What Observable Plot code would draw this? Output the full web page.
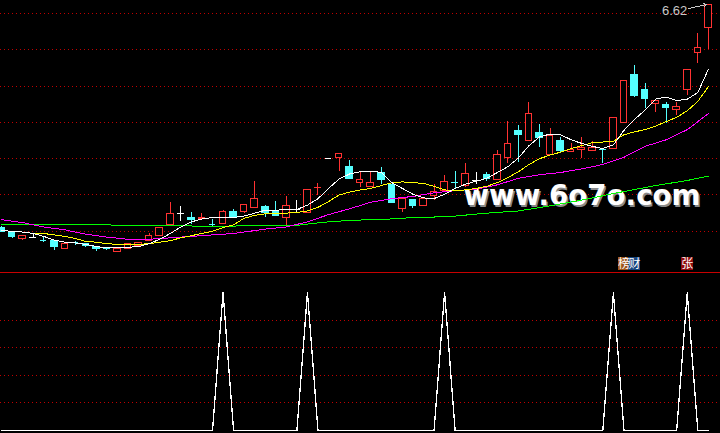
<!DOCTYPE html>
<html><head><meta charset="utf-8">
<script src="https://cdn.jsdelivr.net/npm/d3@7"></script>
<script src="https://cdn.jsdelivr.net/npm/@observablehq/plot@0.6"></script>
<style>
html,body{margin:0;padding:0;background:#000;overflow:hidden}
#chart svg{display:block}
#chart svg line, #chart svg rect, #chart svg path{shape-rendering:crispEdges}
</style></head><body><div id="chart"></div>
<script>
// ---- data ----
const openP = [3.55,3.47,3.39,3.41,3.38,3.36,3.25,3.35,3.32,3.28, 3.27,3.21,3.26,3.30,3.36,3.43,3.59,3.74,3.69,3.67, 3.60,3.60,3.76,3.76,3.82,3.84,3.78,3.69,3.80,3.75, 4.09,4.50,4.51,4.39,4.16,4.11,4.30,4.14,3.81,3.93, 3.85,3.99,4.06,4.18,4.12,4.20,4.27,4.21,4.51,4.88, 4.74,4.86,4.55,4.75,4.59,4.62,4.61,4.63,4.64,4.99, 5.65,5.45,5.26,5.24,5.17,5.45,5.95,6.30];
const highP = [3.56,3.48,3.44,3.47,3.42,3.37,3.33,3.36,3.33,3.29, 3.28,3.26,3.33,3.34,3.47,3.55,3.89,3.84,3.76,3.74, 3.66,3.78,3.80,3.87,4.19,3.86,3.91,3.98,3.92,4.08, 4.16,4.50,4.57,4.48,4.31,4.31,4.38,4.15,3.96,3.94, 3.96,4.15,4.27,4.33,4.43,4.31,4.31,4.61,5.01,4.96, 5.27,4.97,4.91,4.79,4.71,4.79,4.73,4.64,5.07,5.58, 5.78,5.53,5.29,5.28,5.28,5.73,6.23,6.62];
const lowP = [3.48,3.40,3.38,3.40,3.34,3.23,3.25,3.30,3.28,3.22, 3.24,3.21,3.26,3.30,3.36,3.43,3.58,3.63,3.60,3.66, 3.57,3.60,3.68,3.75,3.81,3.69,3.70,3.58,3.76,3.74, 3.99,4.50,4.33,4.22,4.11,4.10,4.14,3.88,3.76,3.81, 3.84,3.93,4.05,4.09,4.11,4.15,4.19,4.20,4.44,4.45, 4.73,4.66,4.54,4.57,4.58,4.50,4.60,4.43,4.63,4.98, 5.34,5.19,5.14,4.98,5.10,5.37,5.81,6.00];
const closeP = [3.49,3.42,3.43,3.41,3.37,3.28,3.33,3.34,3.30,3.25, 3.26,3.26,3.33,3.34,3.44,3.55,3.74,3.74,3.65,3.69, 3.59,3.77,3.69,3.86,3.95,3.75,3.71,3.85,3.80,4.07, 4.10,4.50,4.57,4.22,4.21,4.17,4.20,3.89,3.95,3.85, 3.95,4.04,4.18,4.17,4.29,4.20,4.22,4.55,4.70,4.83, 5.11,4.79,4.81,4.61,4.62,4.65,4.65,4.62,5.06,5.57, 5.37,5.32,5.29,5.20,5.21,5.72,6.02,6.62];

const ma5 = [3.51,3.50,3.49,3.47,3.43,3.38,3.35,3.34,3.32,3.29, 3.27,3.27,3.28,3.29,3.33,3.39,3.47,3.56,3.63,3.67, 3.69,3.69,3.69,3.71,3.75,3.79,3.79,3.80,3.80,3.86, 3.95,4.09,4.22,4.29,4.32,4.33,4.31,4.17,4.09,4.01, 3.96,3.95,4.01,4.09,4.15,4.19,4.23,4.31,4.39,4.51, 4.68,4.80,4.84,4.83,4.76,4.71,4.67,4.64,4.69,4.89, 5.04,5.17,5.32,5.35,5.30,5.32,5.41,5.73];
const ma10 = [3.51,3.50,3.49,3.47,3.47,3.45,3.43,3.40,3.36,3.35, 3.33,3.32,3.32,3.32,3.33,3.35,3.37,3.41,3.44,3.47, 3.50,3.55,3.59,3.68,3.72,3.74,3.75,3.75,3.76,3.78, 3.83,3.91,4.00,4.04,4.07,4.09,4.13,4.17,4.18,4.17, 4.16,4.12,4.07,4.06,4.07,4.09,4.12,4.17,4.24,4.32, 4.42,4.50,4.55,4.59,4.64,4.68,4.72,4.73,4.74,4.83, 4.87,4.90,4.95,5.01,5.07,5.16,5.29,5.49];
const ma20Idx = [0,2,4,6,8,10,12,14,16,18,20,22,23,25,27,29,31,33,35,37,39,41,43,45,47,49,51,53,55,57,59,61,63,65,67];
const ma20 = [3.66,3.62,3.56,3.52,3.46,3.42,3.39,3.39,3.41,3.43,3.45,3.47,3.49,3.53,3.56,3.63,3.73,3.81,3.90,3.95,3.98,4.03,4.06,4.08,4.14,4.23,4.28,4.31,4.36,4.42,4.52,4.67,4.76,4.90,5.12];
const ma60Idx = [0,8,9,13,20,28,29,31,33,35,37,39,42,43,46,49,52,55,58,62,65,67];
const ma60 = [3.60,3.60,3.59,3.58,3.57,3.58,3.60,3.63,3.65,3.66,3.67,3.69,3.70,3.71,3.75,3.78,3.85,3.93,4.02,4.13,4.20,4.26];

const signalIdx = [21,29,42,58,65];
const signalValue = 100;
const gridPrices = [3.5,4.0,4.5,5.0,5.5,6.0,6.5];
const gridSignal = [20,40,60,80];
const tagText = ["榜","财","张"];
const tagIdx = [59,60,65];
const tagColor = ["#a0561a","#17457e","#8e0c0c"];
const watermark = "www.6o7o.com";

// ---- build ----
const UP = "#ff3232", DOWN = "#54ffff", FLAT = "#ffffff";
const candles = openP.map((o, i) => ({i, open: o, high: highP[i], low: lowP[i], close: closeP[i]}));
candles.forEach(d => {
  d.color = d.close > d.open ? UP : d.close < d.open ? DOWN : FLAT;
  d.thin = Math.abs(d.close - d.open) < 0.015;
});
const bodies = candles.filter(d => !d.thin);
const thins = candles.filter(d => d.thin);
const line5 = ma5.map((v, i) => ({i, v}));
const line10 = ma10.map((v, i) => ({i, v}));
const line20 = ma20.map((v, k) => ({i: ma20Idx[k], v}));
const line60 = ma60.map((v, k) => ({i: ma60Idx[k], v}));
const tags = tagText.map((t, k) => ({t, i: tagIdx[k], c: tagColor[k]}));
const sig = candles.map(d => ({i: d.i, v: signalIdx.includes(d.i) ? signalValue : 0}));

const W = 720, H1 = 272, H2 = 161;
const xDomain = [-0.0948, 68.152];
const grid = {stroke: "#c00000", strokeDasharray: "1,3", strokeWidth: 1};
const hw = 0.31;

const topPlot = Plot.plot({
  width: W, height: H1, margin: 0,
  x: {domain: xDomain, axis: null},
  y: {domain: [2.9325, 6.679], axis: null},
  color: {type: "identity"},
  style: {background: "#000", overflow: "visible"},
  marks: [
    Plot.ruleY(gridPrices, grid),
    Plot.text([watermark], {x: 55.02, y: 3.859, text: d => d, fill: "#8a8a8a", dx: 1.5, dy: 1.5, fontSize: 27.5, fontWeight: "bold", fontFamily: "DejaVu Sans", lineAnchor: "bottom"}),
    Plot.text([watermark], {x: 55.02, y: 3.859, text: d => d, fill: "#ffffff", fontSize: 27.5, fontWeight: "bold", fontFamily: "DejaVu Sans", lineAnchor: "bottom"}),
    Plot.ruleX(candles, {x: "i", y1: "low", y2: "high", stroke: "color", strokeWidth: 1}),
    Plot.rect(bodies, {x1: d => d.i - hw, x2: d => d.i + hw, y1: "open", y2: "close", stroke: "color", fill: d => d.color === UP ? "#000000" : d.color, strokeWidth: 1}),
    Plot.ruleY(thins, {y: "close", x1: d => d.i - hw, x2: d => d.i + hw, stroke: "color", strokeWidth: 1}),
    Plot.line(line60, {x: "i", y: "v", stroke: "#00ff00", strokeWidth: 1}),
    Plot.line(line20, {x: "i", y: "v", stroke: "#ff00ff", strokeWidth: 1}),
    Plot.line(line10, {x: "i", y: "v", stroke: "#ffff00", strokeWidth: 1}),
    Plot.line(line5, {x: "i", y: "v", stroke: "#ffffff", strokeWidth: 1}),
    Plot.text([d3.max(highP)], {x: 65.0, y: 6.486, text: d => d.toFixed(2), textAnchor: "end", lineAnchor: "bottom", fill: "#c8c8c8", fontSize: 13, fontFamily: "Liberation Sans"}),
    Plot.arrow([0], {x1: 65.12, y1: 6.569, x2: 66.82, y2: 6.624, stroke: "#c8c8c8", strokeWidth: 1, headLength: 5}),
    Plot.rect(tags, {x1: d => d.i - 0.55, x2: d => d.i + 0.55, y1: () => 2.96, y2: () => 3.135, fill: d => d.c}),
    Plot.text(tags, {x: "i", y: () => 3.047, text: "t", fill: "#ffffff", fontSize: 12, fontFamily: "Noto Sans CJK SC"})
  ]
});

const botPlot = Plot.plot({
  width: W, height: H2, margin: 0,
  x: {domain: xDomain, axis: null},
  y: {domain: [-2.177, 114.66], axis: null},
  style: {background: "#000"},
  marks: [
    Plot.ruleY(gridSignal, grid),
    Plot.ruleY([114.66], {stroke: "#c80000", strokeWidth: 1}),
    Plot.line(sig, {x: "i", y: "v", stroke: "#ffffff", strokeWidth: 1.3})
  ]
});

const host = document.getElementById("chart");
host.appendChild(topPlot);
host.appendChild(botPlot);
topPlot.querySelectorAll("text").forEach(t => {
  if (t.textContent === watermark) {
    t.setAttribute("textLength", "237");
    t.setAttribute("lengthAdjust", "spacingAndGlyphs");
  }
});
</script></body></html>
